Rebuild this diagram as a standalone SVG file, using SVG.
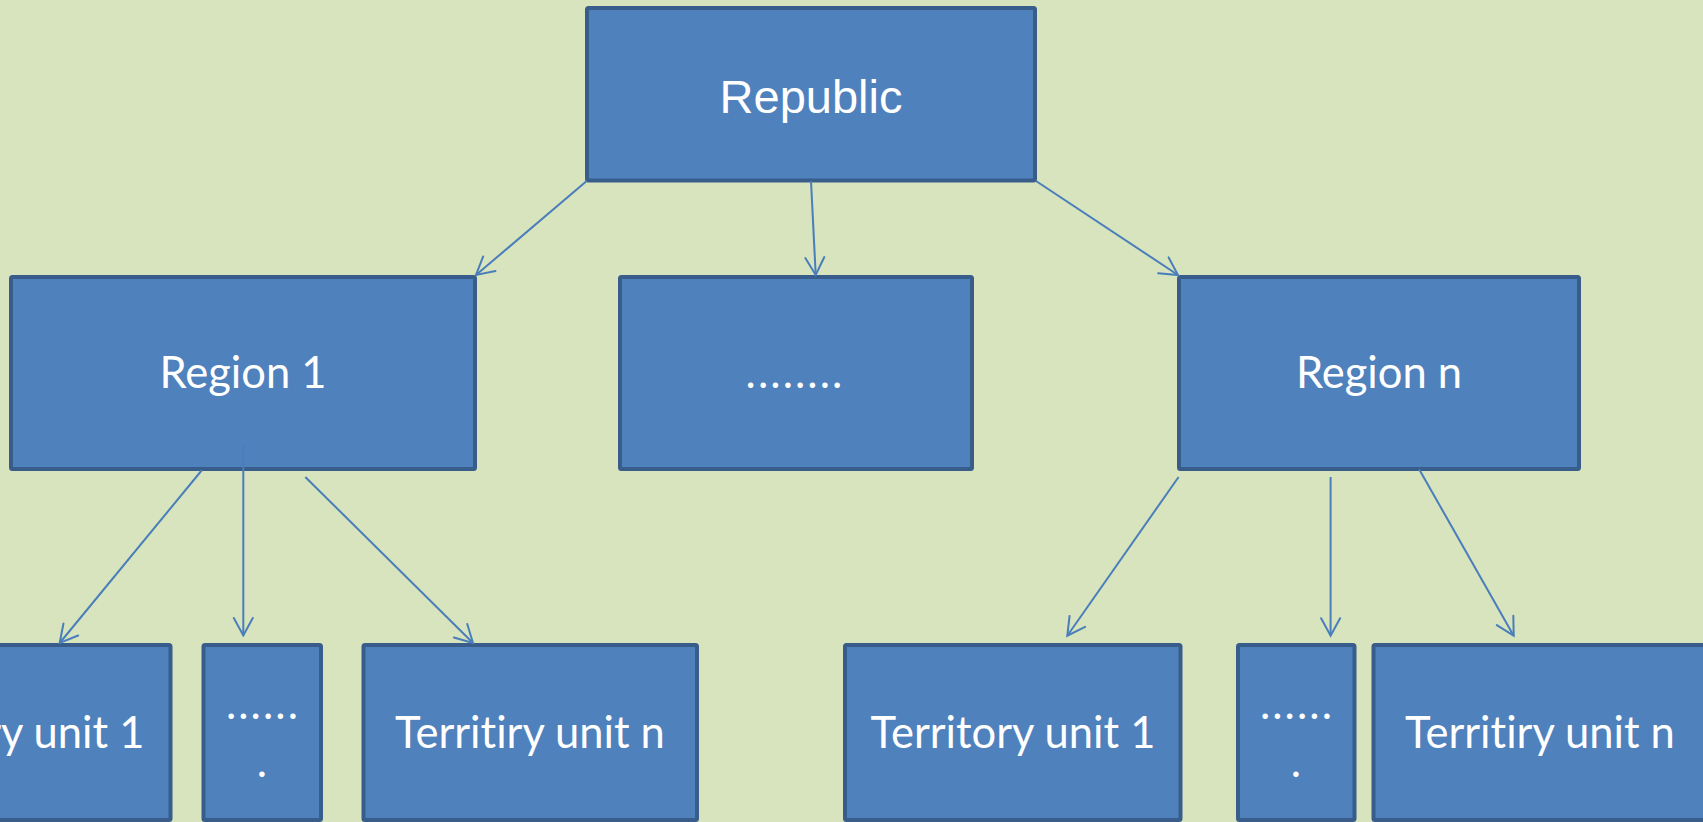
<svg xmlns="http://www.w3.org/2000/svg" width="1703" height="822" viewBox="0 0 1703 822">
  <style>
    .box { fill: #4F81BD; stroke: #385D8A; stroke-width: 4; }
    .lbl { fill: #FFFFFF; font-family: Lato, "Open Sans", "Liberation Sans", sans-serif; font-size: 43.5px; text-anchor: middle; font-variant-ligatures: none; font-feature-settings: "liga" 0, "clig" 0; }
    .dots { letter-spacing: 2.1px; }
    .lbl-top { fill: #FFFFFF; font-family: "Liberation Sans", Arial, sans-serif; font-size: 47px; text-anchor: middle; }
    .conn { stroke: #4A7EBB; stroke-width: 2; fill: none; marker-end: url(#arrow); }
  </style>
  <defs>
    <marker id="arrow" markerUnits="userSpaceOnUse" viewBox="-2 -12 22 24" markerWidth="22" markerHeight="24" refX="17.5" refY="0" orient="auto" overflow="visible">
      <path d="M0,-9.5 L17.5,0 L0,9.5" fill="none" stroke="#4A7EBB" stroke-width="2" stroke-linejoin="miter" stroke-linecap="round"/>
    </marker>
  </defs>
  <rect x="0" y="0" width="1703" height="822" fill="#D7E4BD"/>

  <g id="republic">
    <rect class="box" x="587" y="8" width="448" height="172.5" rx="1.5"/>
    <text class="lbl-top" x="811" y="113">Republic</text>
  </g>
  <g id="region-1">
    <rect class="box" x="11" y="277" width="464" height="192" rx="1.5"/>
    <text class="lbl" x="243" y="388">Region 1</text>
  </g>
  <g id="region-mid">
    <rect class="box" x="620" y="277" width="352" height="192" rx="1.5"/>
    <text class="lbl dots" x="795" y="388">........</text>
  </g>
  <g id="region-n">
    <rect class="box" x="1179" y="277" width="400" height="192" rx="1.5"/>
    <text class="lbl" x="1379" y="388">Region n</text>
  </g>

  <g id="r1-territory-1">
    <rect class="box" x="-168" y="645" width="338.5" height="175" rx="1.5"/>
    <text class="lbl" x="2" y="748">Territory unit 1</text>
  </g>
  <g id="r1-territory-mid">
    <rect class="box" x="203.5" y="645" width="117.5" height="175" rx="1.5"/>
    <text class="lbl dots" x="263" y="719">......</text>
    <text class="lbl" x="262" y="777">.</text>
  </g>
  <g id="r1-territory-n">
    <rect class="box" x="363.5" y="645" width="333.5" height="175" rx="1.5"/>
    <text class="lbl" x="530" y="748">Territiry unit n</text>
  </g>

  <g id="rn-territory-1">
    <rect class="box" x="845" y="645" width="335.5" height="175" rx="1.5"/>
    <text class="lbl" x="1013" y="748">Territory unit 1</text>
  </g>
  <g id="rn-territory-mid">
    <rect class="box" x="1238" y="645" width="116.5" height="175" rx="1.5"/>
    <text class="lbl dots" x="1297" y="719">......</text>
    <text class="lbl" x="1296" y="777">.</text>
  </g>
  <g id="rn-territory-n">
    <rect class="box" x="1373.5" y="645" width="340" height="175" rx="1.5"/>
    <text class="lbl" x="1540" y="748">Territiry unit n</text>
  </g>

  <g id="connectors">
    <line class="conn" x1="586.7" y1="181" x2="476" y2="275"/>
    <line class="conn" x1="811" y1="181" x2="815.7" y2="275"/>
    <line class="conn" x1="1036" y1="181" x2="1178" y2="275"/>

    <line class="conn" x1="202" y1="470" x2="59.7" y2="643"/>
    <line class="conn" x1="243.3" y1="445" x2="243.3" y2="635.5"/>
    <line class="conn" x1="305.3" y1="477" x2="473" y2="643"/>

    <line class="conn" x1="1178.6" y1="477" x2="1067.3" y2="635.7"/>
    <line class="conn" x1="1330.6" y1="477" x2="1330.6" y2="635.7"/>
    <line class="conn" x1="1419" y1="469" x2="1513.7" y2="635.7"/>
  </g>
</svg>
